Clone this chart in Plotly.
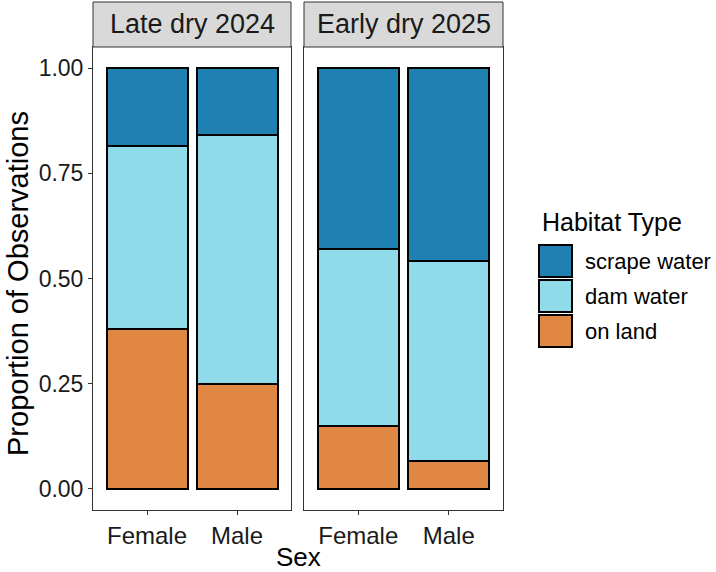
import plotly.graph_objects as go

# ---- data ----
periods = ["Late dry 2024", "Early dry 2025"]
sexes = ["Female", "Male"]
habitats = ["on land", "dam water", "scrape water"]
late_on_land = [0.380, 0.250]
late_dam_water = [0.435, 0.590]
late_scrape_water = [0.185, 0.160]
early_on_land = [0.149, 0.066]
early_dam_water = [0.422, 0.475]
early_scrape_water = [0.429, 0.459]
colors = {"scrape water": "#1F80B2", "dam water": "#8FDBE9", "on land": "#E08743"}
y_ticks = [0.0, 0.25, 0.5, 0.75, 1.0]
y_ticktext = ["0.00", "0.25", "0.50", "0.75", "1.00"]

W, H = 716, 572
FONT = "Liberation Sans, Arial, sans-serif"

def px(x):
    return x / W

def py(y):
    return 1 - y / H

fig = go.Figure()
panel_data = [
    {"on land": late_on_land, "dam water": late_dam_water, "scrape water": late_scrape_water},
    {"on land": early_on_land, "dam water": early_dam_water, "scrape water": early_scrape_water},
]
for i, pdata in enumerate(panel_data):
    xa = "x" if i == 0 else "x2"
    ya = "y" if i == 0 else "y2"
    for h in habitats:
        fig.add_trace(go.Bar(
            x=sexes, y=pdata[h], name=h, xaxis=xa, yaxis=ya, width=0.9,
            marker=dict(color=colors[h], line=dict(color="black", width=2)),
            showlegend=False,
        ))

# panel geometry
p1 = (93, 291)
p2 = (304, 503)
ptop, pbot = 47, 510
strip_top = 2

axis_common = dict(
    showline=True, linecolor="#333333", linewidth=1, mirror=True,
    showgrid=False, zeroline=False,
    ticks="outside", ticklen=4, tickcolor="#333333", tickwidth=1,
    tickfont=dict(family=FONT, size=24, color="#1A1A1A"),
)
fig.update_layout(
    width=W, height=H,
    margin=dict(l=0, r=0, t=0, b=0),
    paper_bgcolor="white", plot_bgcolor="white",
    barmode="stack", bargap=0.1,
    showlegend=False,
    xaxis=dict(domain=[px(p1[0]), px(p1[1])], anchor="y", range=[-0.6, 1.6],
               type="category", **axis_common),
    xaxis2=dict(domain=[px(p2[0]), px(p2[1])], anchor="y2", range=[-0.6, 1.6],
                type="category", **axis_common),
    yaxis=dict(domain=[py(pbot), py(ptop)], anchor="x", range=[-0.05, 1.05],
               tickvals=y_ticks, ticktext=y_ticktext, **{**axis_common,
               "tickfont": dict(family=FONT, size=23, color="#1A1A1A")}),
    yaxis2=dict(domain=[py(pbot), py(ptop)], anchor="x2", range=[-0.05, 1.05],
                matches="y", showticklabels=False,
                **{**axis_common, "ticks": ""}),
)

shapes = []
annotations = []
for (x0, x1), label in zip([p1, p2], periods):
    shapes.append(dict(type="rect", xref="paper", yref="paper",
                       x0=px(x0), x1=px(x1), y0=py(ptop), y1=py(strip_top),
                       fillcolor="#D9D9D9", line=dict(color="#333333", width=1)))
    annotations.append(dict(xref="paper", yref="paper", x=px((x0 + x1) / 2),
                            y=py((strip_top + ptop) / 2), text=label, showarrow=False,
                            xanchor="center", yanchor="middle",
                            font=dict(family=FONT, size=27, color="#1A1A1A")))

# axis titles
annotations.append(dict(xref="paper", yref="paper", x=px(298), y=py(557), text="Sex",
                        showarrow=False, xanchor="center", yanchor="middle",
                        font=dict(family=FONT, size=26, color="black")))
annotations.append(dict(xref="paper", yref="paper", x=px(18), y=py(284),
                        text="Proportion of Observations", textangle=-90,
                        showarrow=False, xanchor="center", yanchor="middle",
                        font=dict(family=FONT, size=29, color="black")))

# legend (drawn manually for ggplot-size keys)
annotations.append(dict(xref="paper", yref="paper", x=px(540), y=py(222),
                        text="Habitat Type", showarrow=False, xanchor="left",
                        yanchor="middle", font=dict(family=FONT, size=25, color="black")))
legend_order = ["scrape water", "dam water", "on land"]
key_tops = [243, 278, 313]
for h, top in zip(legend_order, key_tops):
    shapes.append(dict(type="rect", xref="paper", yref="paper",
                       x0=px(539), x1=px(572), y0=py(top + 34), y1=py(top + 2),
                       fillcolor=colors[h], line=dict(color="black", width=2)))
    annotations.append(dict(xref="paper", yref="paper", x=px(583), y=py(top + 18),
                            text=h, showarrow=False, xanchor="left", yanchor="middle",
                            font=dict(family=FONT, size=22, color="black")))

fig.update_layout(shapes=shapes, annotations=annotations)
fig.write_html("out.html")
